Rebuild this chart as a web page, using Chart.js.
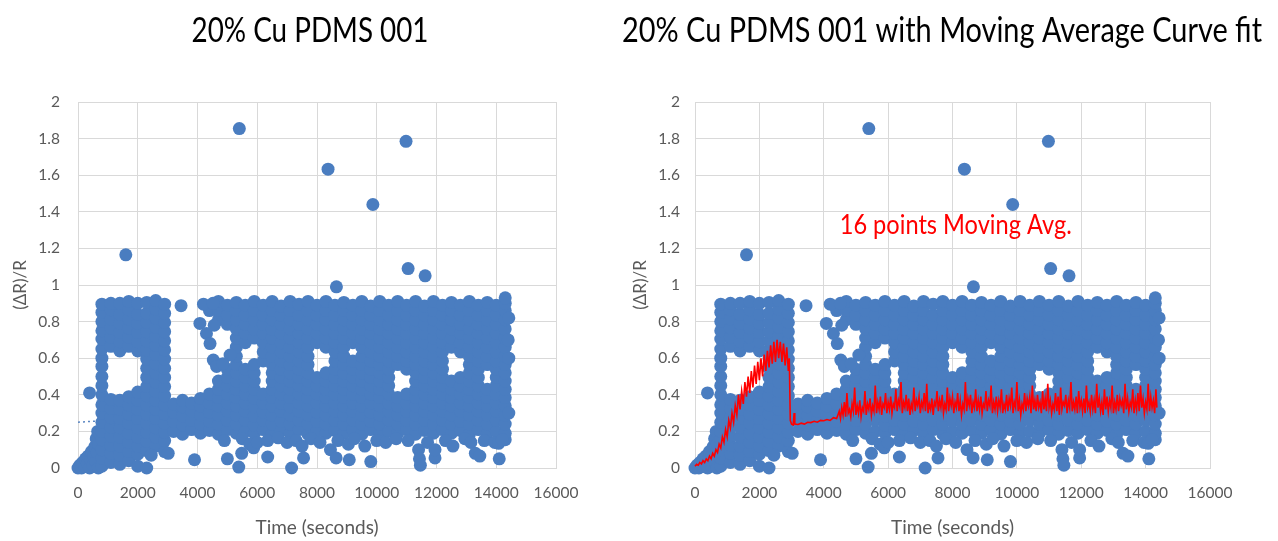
<!DOCTYPE html>
<html><head><meta charset="utf-8">
<script src="https://cdn.jsdelivr.net/npm/chart.js@4.4.1/dist/chart.umd.min.js"></script>
<style>
html,body{margin:0;padding:0;background:#fff;width:1278px;height:541px;overflow:hidden}
#c1{position:absolute;left:0;top:0}
#c2{position:absolute;left:620px;top:0}
</style></head><body>
<canvas id="c1" width="620" height="541"></canvas>
<canvas id="c2" width="658" height="541"></canvas>
<script>
// ---------------- data ----------------
const xTickValues = [0,2000,4000,6000,8000,10000,12000,14000,16000];
const xTickLabels = ['0','2000','4000','6000','8000','10000','12000','14000','16000'];
const yTickValues = [0,0.2,0.4,0.6,0.8,1,1.2,1.4,1.6,1.8,2];
const yTickLabels = ['0','0.2','0.4','0.6','0.8','1','1.2','1.4','1.6','1.8','2'];

// start-up ramp (time, dR/R)
const rampPoints = [[0,0],[60,0.015],[120,0],[150,0.03],[220,0.01],[250,0.05],[310,0.025],[340,0.065],[390,0],[420,0.045],[450,0.09],[500,0.015],[520,0.065],[560,0.115],[600,0.035],[610,0.16],[640,0.085],[660,0.2],[680,0],[690,0.13],[388,0.41]];

// first cluster 800-2900 s : [time, [values]]
const clusterColumns = [
 [800,[0.01,0.055,0.1,0.155,0.2,0.25,0.3,0.345,0.4,0.45,0.5,0.555,0.6,0.65,0.705,0.75,0.8,0.85,0.895]],
 [1100,[0.03,0.08,0.125,0.175,0.225,0.275,0.325,0.375,0.665,0.715,0.765,0.815,0.865,0.9]],
 [1400,[0.02,0.07,0.12,0.17,0.22,0.27,0.32,0.37,0.64,0.69,0.74,0.79,0.84,0.9]],
 [1700,[0.04,0.09,0.14,0.19,0.245,0.295,0.345,0.39,0.665,0.715,0.765,0.815,0.865,0.91]],
 [2000,[0.01,0.075,0.12,0.17,0.22,0.27,0.32,0.37,0.415,0.64,0.69,0.74,0.79,0.84,0.9]],
 [2300,[0,0.095,0.145,0.195,0.245,0.295,0.345,0.395,0.445,0.495,0.545,0.595,0.645,0.695,0.745,0.795,0.845,0.905]],
 [2600,[0.12,0.17,0.22,0.27,0.32,0.37,0.42,0.47,0.52,0.57,0.62,0.67,0.72,0.77,0.82,0.87,0.915]],
 [2900,[0.09,0.15,0.195,0.245,0.295,0.345,0.395,0.445,0.495,0.545,0.595,0.645,0.695,0.745,0.795,0.845,0.895]]
];

// main band 3200-14300 s : [time, [values]]
const bandColumns = [
 [3200,[0.2,0.255,0.305,0.35]],
 [3500,[0.185,0.235,0.285,0.335,0.37]],
 [3800,[0.21,0.26,0.31,0.355]],
 [4100,[0.19,0.24,0.29,0.34,0.38]],
 [4400,[0.205,0.255,0.305,0.355,0.405,0.86]],
 [4700,[0.185,0.24,0.29,0.34,0.385,0.43,0.475,0.81,0.86,0.91]],
 [5000,[0.21,0.26,0.31,0.355,0.405,0.45,0.495,0.54,0.785,0.835,0.89]],
 [5300,[0.19,0.24,0.29,0.34,0.385,0.43,0.475,0.52,0.565,0.61,0.66,0.71,0.76,0.81,0.86,0.905]],
 [5600,[0.2,0.26,0.31,0.355,0.405,0.45,0.495,0.54,0.685,0.735,0.785,0.835,0.89]],
 [5900,[0.19,0.235,0.285,0.335,0.38,0.43,0.475,0.52,0.565,0.71,0.76,0.81,0.86,0.91]],
 [6200,[0.21,0.26,0.305,0.355,0.405,0.585,0.635,0.685,0.735,0.785,0.835,0.89]],
 [6500,[0.185,0.24,0.29,0.34,0.385,0.43,0.475,0.52,0.565,0.61,0.66,0.71,0.76,0.81,0.86,0.91]],
 [6800,[0.205,0.255,0.31,0.355,0.405,0.45,0.495,0.54,0.585,0.635,0.685,0.735,0.785,0.835,0.885]],
 [7100,[0.19,0.24,0.29,0.335,0.385,0.43,0.475,0.52,0.565,0.61,0.66,0.71,0.76,0.81,0.86,0.91]],
 [7400,[0.21,0.26,0.31,0.355,0.405,0.45,0.495,0.54,0.585,0.635,0.685,0.735,0.785,0.835,0.895]],
 [7700,[0.185,0.24,0.29,0.34,0.385,0.43,0.475,0.52,0.565,0.61,0.66,0.71,0.76,0.81,0.86,0.91]],
 [8000,[0.2,0.255,0.305,0.355,0.405,0.45,0.495,0.685,0.735,0.785,0.835,0.89]],
 [8300,[0.19,0.24,0.29,0.34,0.385,0.43,0.475,0.52,0.66,0.71,0.76,0.81,0.86,0.91]],
 [8600,[0.205,0.26,0.31,0.355,0.405,0.45,0.495,0.54,0.585,0.635,0.685,0.735,0.785,0.835,0.89]],
 [8900,[0.19,0.24,0.29,0.34,0.385,0.43,0.475,0.52,0.565,0.61,0.66,0.71,0.76,0.81,0.86,0.905]],
 [9200,[0.21,0.26,0.31,0.355,0.405,0.45,0.495,0.54,0.585,0.685,0.735,0.785,0.835,0.89]],
 [9500,[0.185,0.24,0.29,0.34,0.385,0.43,0.475,0.52,0.565,0.61,0.66,0.71,0.76,0.81,0.86,0.91]],
 [9800,[0.21,0.255,0.305,0.355,0.405,0.45,0.495,0.54,0.585,0.635,0.685,0.735,0.785,0.835,0.885]],
 [10100,[0.19,0.24,0.29,0.34,0.385,0.43,0.475,0.52,0.565,0.61,0.66,0.71,0.76,0.81,0.86,0.91]],
 [10400,[0.2,0.26,0.31,0.355,0.405,0.45,0.495,0.54,0.585,0.635,0.685,0.735,0.785,0.835,0.89]],
 [10700,[0.19,0.24,0.29,0.34,0.385,0.565,0.61,0.66,0.71,0.76,0.81,0.86,0.91]],
 [11000,[0.21,0.26,0.31,0.355,0.405,0.54,0.585,0.635,0.685,0.735,0.785,0.835,0.89]],
 [11300,[0.185,0.24,0.29,0.34,0.385,0.43,0.475,0.52,0.565,0.61,0.66,0.71,0.76,0.81,0.86,0.91]],
 [11600,[0.205,0.26,0.31,0.355,0.405,0.45,0.495,0.54,0.585,0.635,0.685,0.735,0.785,0.835,0.885]],
 [11900,[0.19,0.24,0.29,0.34,0.385,0.43,0.475,0.52,0.565,0.61,0.66,0.71,0.76,0.81,0.86,0.91]],
 [12200,[0.21,0.26,0.31,0.355,0.405,0.45,0.495,0.54,0.585,0.635,0.685,0.735,0.785,0.835,0.89]],
 [12500,[0.19,0.24,0.29,0.34,0.385,0.43,0.475,0.66,0.71,0.76,0.81,0.86,0.905]],
 [12800,[0.205,0.255,0.31,0.355,0.405,0.45,0.495,0.635,0.685,0.735,0.785,0.835,0.89]],
 [13100,[0.185,0.24,0.29,0.34,0.385,0.43,0.475,0.52,0.565,0.61,0.66,0.71,0.76,0.81,0.86,0.91]],
 [13400,[0.21,0.26,0.31,0.355,0.405,0.45,0.495,0.54,0.585,0.635,0.685,0.735,0.785,0.835,0.89]],
 [13700,[0.19,0.24,0.29,0.34,0.385,0.43,0.565,0.61,0.66,0.71,0.76,0.81,0.86,0.905]],
 [14000,[0.2,0.26,0.31,0.355,0.405,0.45,0.495,0.54,0.585,0.635,0.685,0.735,0.785,0.835,0.89]],
 [14300,[0.155,0.19,0.24,0.29,0.34,0.385,0.43,0.475,0.52,0.565,0.61,0.66,0.71,0.76,0.81,0.86,0.9,0.93]]
];

// loose points on the band edges
const edgePoints = [[4080,0.79],[4200,0.895],[4300,0.735],[4420,0.68],[4530,0.59],[4640,0.555],[4520,0.9],[4560,0.78],[5090,0.617],[4850,0.57],[14420,0.3],[14420,0.6],[14420,0.82],[14400,0.7],[2450,0.07]];

// points under the band
const lowPoints = [[3020,0.08],[3900,0.045],[4900,0.15],[5000,0.05],[5380,0.005],[5480,0.08],[5500,0.16],[5750,0.13],[5880,0.11],[6000,0.14],[6350,0.06],[6350,0.15],[6700,0.165],[7000,0.14],[7150,0],[7300,0.15],[7500,0.12],[7550,0.055],[7800,0.16],[8100,0.14],[8450,0.1],[8640,0.055],[8700,0.15],[9050,0.13],[9080,0.045],[9250,0.16],[9600,0.12],[9800,0.035],[10000,0.15],[10300,0.14],[10650,0.16],[11050,0.15],[11400,0.1],[11430,0.05],[11460,0.015],[11700,0.14],[11950,0.055],[11950,0.1],[12300,0.15],[12550,0.12],[12950,0.16],[13150,0.14],[13300,0.08],[13450,0.065],[13600,0.15],[13950,0.14],[14080,0.135],[14100,0.05],[14200,0.155]];

// isolated high readings
const outlierPoints = [[1600,1.165],[5400,1.855],[8370,1.633],[9870,1.44],[10980,1.785],[11050,1.09],[11620,1.05],[8650,0.99],[3450,0.887]];

// left chart dotted trend line
const trendLine = [[0,0.25],[14400,0.4]];

// 16 point moving average (time, value)
const movingAvg = [[0,0.01],[50,0.02],[100,0.015],[150,0.03],[200,0.022],[250,0.04],[300,0.03],[350,0.05],[400,0.04],[450,0.065],[500,0.05],[550,0.08],[600,0.065],[650,0.1],[700,0.085],[750,0.13],[800,0.11],[850,0.17],[900,0.14],[950,0.21],[1000,0.17],[1050,0.26],[1100,0.22],[1150,0.3],[1200,0.25],[1250,0.34],[1300,0.29],[1350,0.4],[1400,0.32],[1450,0.42],[1500,0.35],[1550,0.47],[1600,0.39],[1650,0.5],[1700,0.41],[1750,0.53],[1800,0.44],[1850,0.56],[1900,0.46],[1950,0.58],[2000,0.48],[2050,0.6],[2100,0.5],[2150,0.62],[2200,0.53],[2250,0.64],[2300,0.55],[2350,0.67],[2400,0.57],[2450,0.69],[2500,0.58],[2550,0.7],[2600,0.6],[2650,0.69],[2700,0.58],[2750,0.68],[2800,0.56],[2850,0.66],[2900,0.53],[2930,0.6],[2960,0.26],[3000,0.24],[3050,0.235],[3080,0.3],[3100,0.24],[3200,0.238],[3300,0.245],[3400,0.24],[3500,0.25],[3600,0.248],[3700,0.255],[3800,0.25],[3900,0.26],[4000,0.258],[4100,0.265],[4200,0.26],[4300,0.275],[4400,0.27],
[4440,0.29],[4480,0.31],[4520,0.27],[4560,0.33],[4600,0.29],[4640,0.36],[4680,0.28],[4720,0.41],[4760,0.3],[4800,0.32],[4840,0.28],[4880,0.35],[4920,0.31],[4960,0.44],[5000,0.29],[5040,0.34],[5080,0.3],[5120,0.37],[5160,0.28],[5200,0.33],[5240,0.31],[5280,0.42],[5320,0.29],[5360,0.35],[5400,0.32],[5440,0.38],[5480,0.29],[5520,0.34],[5560,0.31],[5600,0.45],[5640,0.3],[5680,0.36],[5720,0.32],[5760,0.39],[5800,0.29],[5840,0.35],[5880,0.33],[5920,0.41],[5960,0.3],[6000,0.36],
[6040,0.32],[6080,0.39],[6120,0.3],[6160,0.35],[6200,0.33],[6240,0.43],[6280,0.31],[6320,0.37],[6360,0.34],[6400,0.47],[6440,0.3],[6480,0.36],[6520,0.33],[6560,0.4],[6600,0.31],[6640,0.38],[6680,0.29],[6720,0.35],[6760,0.32],[6800,0.44],[6840,0.31],[6880,0.37],[6920,0.34],[6960,0.39],[7000,0.3],[7040,0.36],[7080,0.33],[7120,0.41],[7160,0.31],[7200,0.46],[7240,0.3],[7280,0.35],[7320,0.32],[7360,0.38],[7400,0.29],[7440,0.36],[7480,0.34],[7520,0.42],[7560,0.31],[7600,0.37],[7640,0.33],[7680,0.4],[7720,0.3],[7760,0.35],[7800,0.32],[7840,0.44],[7880,0.31],[7920,0.38],[7960,0.34],[8000,0.39],
[8040,0.3],[8080,0.36],[8120,0.33],[8160,0.41],[8200,0.31],[8240,0.37],[8280,0.29],[8320,0.35],[8360,0.32],[8400,0.47],[8440,0.31],[8480,0.38],[8520,0.34],[8560,0.4],[8600,0.3],[8640,0.36],[8680,0.33],[8720,0.43],[8760,0.31],[8800,0.37],[8840,0.32],[8880,0.39],[8920,0.3],[8960,0.35],[9000,0.33],[9040,0.42],[9080,0.31],[9120,0.37],[9160,0.34],[9200,0.45],[9240,0.3],[9280,0.36],[9320,0.32],[9360,0.39],[9400,0.31],[9440,0.37],[9480,0.33],[9520,0.43],[9560,0.3],[9600,0.35],[9640,0.32],[9680,0.4],[9720,0.31],[9760,0.38],[9800,0.34],[9840,0.44],[9880,0.3],[9920,0.36],[9960,0.33],[10000,0.47],
[10040,0.31],[10080,0.37],[10120,0.29],[10160,0.35],[10200,0.32],[10240,0.41],[10280,0.31],[10320,0.38],[10360,0.34],[10400,0.39],[10440,0.3],[10480,0.45],[10520,0.32],[10560,0.37],[10600,0.31],[10640,0.4],[10680,0.33],[10720,0.36],[10760,0.3],[10800,0.42],[10840,0.32],[10880,0.38],[10920,0.31],[10960,0.46],[11000,0.33],[11040,0.37],[11080,0.3],[11120,0.35],[11160,0.32],[11200,0.41],[11240,0.31],[11280,0.39],[11320,0.29],[11360,0.44],[11400,0.32],[11440,0.36],[11480,0.34],[11520,0.4],[11560,0.3],[11600,0.37],[11640,0.33],[11680,0.47],[11720,0.31],[11760,0.36],[11800,0.32],[11840,0.39],[11880,0.3],[11920,0.42],[11960,0.33],[12000,0.37],
[12040,0.31],[12080,0.38],[12120,0.3],[12160,0.45],[12200,0.33],[12240,0.36],[12280,0.31],[12320,0.4],[12360,0.32],[12400,0.37],[12440,0.3],[12480,0.46],[12520,0.33],[12560,0.38],[12600,0.31],[12640,0.36],[12680,0.29],[12720,0.43],[12760,0.32],[12800,0.39],[12840,0.31],[12880,0.37],[12920,0.33],[12960,0.45],[13000,0.3],[13040,0.36],[13080,0.32],[13120,0.4],[13160,0.31],[13200,0.38],[13240,0.34],[13280,0.37],[13320,0.3],[13360,0.46],[13400,0.32],[13440,0.38],[13480,0.31],[13520,0.36],[13560,0.33],[13600,0.43],[13640,0.3],[13680,0.37],[13720,0.32],[13760,0.41],[13800,0.31],[13840,0.45],[13880,0.33],[13920,0.38],[13960,0.3],[14000,0.36],[14040,0.32],[14080,0.46],[14120,0.31],[14160,0.39],[14200,0.33],[14240,0.37],[14280,0.3],[14320,0.43],[14350,0.33]];

// ---------------- styling ----------------
const FONT = 'Lato, "Liberation Sans", Arial, sans-serif';
const BLUE = '#4A7DC0';
const GRID = '#D9D9D9';
const LABEL = '#595959';

function toXY(pairs){ return pairs.map(p => ({x:p[0], y:p[1]})); }
function columnsToXY(cols){ const out=[]; cols.forEach(c => c[1].forEach(v => out.push({x:c[0], y:v}))); return out; }
const bluePoints = [].concat(toXY(rampPoints), columnsToXY(clusterColumns), columnsToXY(bandColumns), toXY(edgePoints), toXY(lowPoints), toXY(outlierPoints));

// titles / annotation: text drawn slightly condensed to the reference's proportions
const textPlugin = {
  id: 'texts',
  afterDraw(chart, args, opts){
    const ctx = chart.ctx;
    (opts.items || []).forEach(t => {
      ctx.save();
      ctx.font = t.font; ctx.fillStyle = t.color; ctx.textAlign = 'center';
      ctx.textBaseline = t.baseline || 'alphabetic';
      const x = t.px !== undefined ? t.px : chart.scales.x.getPixelForValue(t.x);
      const y = t.py !== undefined ? t.py : chart.scales.y.getPixelForValue(t.y);
      const natural = ctx.measureText(t.text).width;
      const sx = t.width ? Math.min(1, t.width / natural) : 1;
      ctx.translate(x, y); ctx.scale(sx, 1);
      ctx.fillText(t.text, 0, 0);
      ctx.restore();
    });
  }
};

function makeChart(canvas, cfg){
  const datasets = [];
  if (cfg.withAvg) datasets.push({data: toXY(movingAvg), showLine:true, borderColor:'#FF0000', borderWidth:1.6, pointRadius:0, fill:false, order:0, clip:false});
  datasets.push({data: bluePoints, showLine:false, pointRadius:6.5, pointHoverRadius:6.5, pointBackgroundColor:BLUE, pointBorderWidth:0, borderColor:BLUE, order:1, clip:false});
  if (cfg.withTrend) datasets.push({data: toXY(trendLine), showLine:true, borderColor:'#5A86C2', borderWidth:1.5, borderDash:[2,3], pointRadius:0, order:2, clip:false});
  return new Chart(canvas, {
    type: 'scatter',
    data: {datasets},
    plugins: [textPlugin],
    options: {
      responsive:false, animation:false, devicePixelRatio:1,
      layout: {padding: {left:0, right:cfg.padRight, top:102, bottom:0}},
      plugins: {
        legend:{display:false}, tooltip:{enabled:false},
        texts: {items: cfg.texts}
      },
      scales: {
        x: {
          type:'linear', min:0, max:16000,
          afterFit(s){ s.height = 73; },
          afterBuildTicks(s){ s.ticks = xTickValues.map(v => ({value:v})); },
          ticks: {padding:16, color:LABEL, font:{family:FONT, size:15.5}, maxRotation:0, callback:(v,i)=>xTickLabels[i]},
          grid: {color:GRID, lineWidth:1, drawTicks:false},
          border: {color:GRID},
          title: {display:true, text:'Time (seconds)', color:LABEL, font:{family:FONT, size:19}, padding:{top:0, bottom:2}}
        },
        y: {
          type:'linear', min:0, max:2,
          afterFit(s){ s.width = cfg.yWidth; },
          afterBuildTicks(s){ s.ticks = yTickValues.map(v => ({value:v})); },
          ticks: {padding:cfg.yPad, color:LABEL, font:{family:FONT, size:15.5}, callback:(v,i)=>yTickLabels[i]},
          grid: {color:GRID, lineWidth:1, drawTicks:false},
          border: {display:false},
          title: {display:true, text:'(\u0394R)/R', color:LABEL, font:{family:FONT, size:17}, padding:{top:10, bottom:0}}
        }
      }
    }
  });
}

makeChart(document.getElementById('c1'), {
  withAvg:false, withTrend:true, padRight:64, yWidth:78, yPad:18,
  texts: [{text:'20% Cu PDMS 001', px:310, py:42, width:237, font:'34px '+FONT, color:'#000000'}]
});
makeChart(document.getElementById('c2'), {
  withAvg:true, withTrend:false, padRight:68, yWidth:75, yPad:15,
  texts: [
    {text:'20% Cu PDMS 001 with Moving Average Curve fit', px:322, py:42, width:640, font:'34px '+FONT, color:'#000000'},
    {text:'16 points Moving Avg.', x:8100, y:1.325, baseline:'middle', width:232, font:'27px '+FONT, color:'#FF0000'}
  ]
});
</script></body></html>
